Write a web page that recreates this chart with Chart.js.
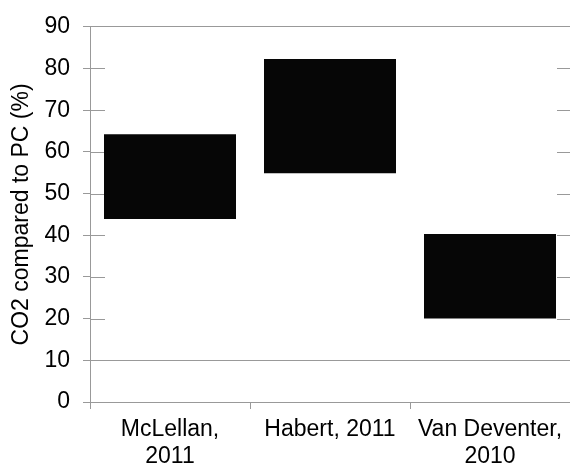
<!DOCTYPE html>
<html lang="en">
  <head>
    <meta charset="UTF-8" />
    <title>CO2 compared to PC</title>
    <script src="https://cdn.jsdelivr.net/npm/chart.js"></script>
    <style>
      html, body { margin: 0; padding: 0; background: #fff; }
      #wrap { width: 570px; height: 464px; }
    </style>
  </head>
  <body>
    <div id="wrap"><canvas id="co2"></canvas></div>

    <script>
      // data
      const categories = [['McLellan,', '2011'], 'Habert, 2011', ['Van Deventer,', '2010']];
      const lowValues = [43.9, 54.9, 20.0];
      const highValues = [64.2, 82.3, 40.3];
      const yTicks = [0, 10, 20, 30, 40, 50, 60, 70, 80, 90];
      const fullGridValues = [10, 90];

      const gridGray = '#999999';
      const fontFamily = '"Liberation Sans", Arial, sans-serif';

      // short grid stubs at each side of the plot, like the original
      const stubPlugin = {
        id: 'stubs',
        beforeDatasetsDraw(chart) {
          const ctx = chart.ctx;
          const y = chart.scales.y;
          const area = chart.chartArea;
          ctx.save();
          ctx.strokeStyle = gridGray;
          ctx.lineWidth = 1;
          yTicks.forEach((v) => {
            if (v === 0 || fullGridValues.includes(v)) return;
            const py = Math.round(y.getPixelForValue(v)) + 0.5;
            ctx.beginPath();
            ctx.moveTo(area.left, py);
            ctx.lineTo(area.left + 15, py);
            ctx.moveTo(area.right - 13, py);
            ctx.lineTo(area.right, py);
            ctx.stroke();
          });
          ctx.restore();
        },
      };

      const data = {
        labels: categories,
        datasets: [
          {
            label: 'CO2',
            data: lowValues.map((lo, i) => [lo, highValues[i]]),
            backgroundColor: '#060606',
            borderColor: '#060606',
            borderWidth: 0,
            barPercentage: 0.825,
            categoryPercentage: 1.0,
          },
        ],
      };

      const config = {
        type: 'bar',
        data: data,
        plugins: [stubPlugin],
        options: {
          responsive: true,
          maintainAspectRatio: false,
          animation: false,
          layout: { padding: { top: 15, right: 0, left: 0, bottom: 0 } },
          plugins: {
            legend: { display: false },
            tooltip: { enabled: false },
          },
          scales: {
            x: {
              grid: {
                display: true,
                offset: true,
                drawOnChartArea: false,
                tickLength: 7,
                color: gridGray,
              },
              border: { color: gridGray, width: 1 },
              ticks: {
                color: '#000',
                font: { family: fontFamily, size: 23, lineHeight: 1.18 },
                padding: 7,
                maxRotation: 0,
                autoSkip: false,
              },
              afterFit(scale) { scale.height = 62; },
            },
            y: {
              min: 0,
              max: 90,
              afterBuildTicks(scale) {
                scale.ticks = yTicks.map((v) => ({ value: v }));
              },
              grid: {
                color: (c) => (fullGridValues.includes(c.tick.value) ? gridGray : 'rgba(0,0,0,0)'),
                tickColor: gridGray,
                tickLength: 7,
              },
              border: { color: gridGray, width: 1 },
              ticks: {
                color: '#000',
                font: { family: fontFamily, size: 23 },
                padding: 13,
              },
              title: {
                display: true,
                text: 'CO2 compared to PC (%)',
                color: '#000',
                font: { family: fontFamily, size: 23 },
                padding: { top: 8, bottom: 0 },
              },
              afterFit(scale) { scale.width = 90; },
            },
          },
        },
      };

      new Chart(document.getElementById('co2'), config);
    </script>
  </body>
</html>
